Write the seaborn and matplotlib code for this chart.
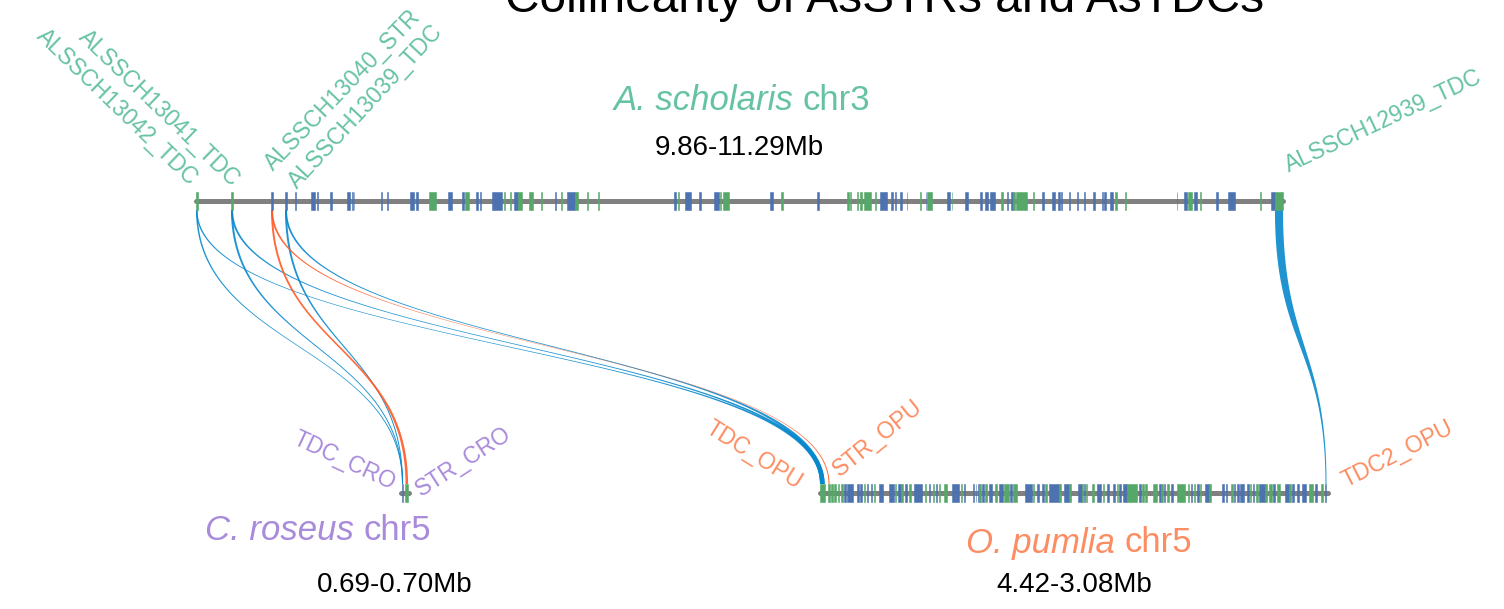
import numpy as np
import matplotlib
matplotlib.use("Agg")
import matplotlib.pyplot as plt
import seaborn as sns
from matplotlib.patches import Rectangle, Polygon

sns.set_theme(style="white")
plt.rcParams["font.family"] = ["Liberation Sans", "DejaVu Sans"]

# ---------------------------------------------------------------- data
title = "Collinearity of AsSTRs and AsTDCs"

chrom_ids = ["as", "cro", "opu"]
species_italic = ["A. scholaris", "C. roseus", "O. pumlia"]
species_chr = ["chr3", "chr5", "chr5"]
region_start = [9.86, 0.69, 4.42]   # Mb
region_end = [11.29, 0.70, 3.08]    # Mb

# genes: (start Mb, end Mb, strand)
as_genes = [
    (9.8600, 9.8620, '+'), (9.9060, 9.9087, '+'), (9.9587, 9.9613, '-'), (9.9771, 9.9797, '-'),
    (9.9896, 9.9909, '-'), (10.0113, 10.0165, '-'), (10.0198, 10.0211, '-'), (10.0363, 10.0389, '-'),
    (10.0586, 10.0626, '-'), (10.0646, 10.0659, '-'), (10.0672, 10.0685, '-'), (10.1040, 10.1053, '-'),
    (10.1119, 10.1132, '-'), (10.1415, 10.1468, '-'), (10.1494, 10.1520, '-'), (10.1665, 10.1757, '+'),
    (10.1915, 10.1968, '-'), (10.2099, 10.2126, '-'), (10.2139, 10.2191, '+'), (10.2283, 10.2310, '-'),
    (10.2330, 10.2343, '-'), (10.2494, 10.2625, '-'), (10.2658, 10.2671, '+'), (10.2737, 10.2750, '+'),
    (10.2783, 10.2836, '-'), (10.2836, 10.2889, '+'), (10.2981, 10.3033, '+'), (10.3145, 10.3158, '+'),
    (10.3329, 10.3342, '-'), (10.3408, 10.3421, '+'), (10.3480, 10.3586, '-'), (10.3586, 10.3625, '+'),
    (10.3750, 10.3763, '+'), (10.3895, 10.3908, '+'), (10.4888, 10.4915, '-'), (10.4947, 10.4960, '+'),
    (10.5033, 10.5112, '-'), (10.5217, 10.5243, '-'), (10.5414, 10.5480, '-'), (10.5500, 10.5513, '+'),
    (10.5533, 10.5612, '+'), (10.6151, 10.6191, '-'), (10.6296, 10.6322, '+'), (10.6769, 10.6796, '-'),
    (10.7164, 10.7190, '+'), (10.7210, 10.7223, '+'), (10.7302, 10.7315, '+'), (10.7335, 10.7361, '+'),
    (10.7388, 10.7480, '+'), (10.7539, 10.7552, '+'), (10.7598, 10.7664, '-'), (10.7670, 10.7684, '-'),
    (10.7743, 10.7769, '-'), (10.7802, 10.7815, '-'), (10.7861, 10.7887, '-'), (10.7947, 10.7960, '-'),
    (10.8131, 10.8144, '+'), (10.8197, 10.8210, '-'), (10.8216, 10.8282, '+'), (10.8479, 10.8519, '-'),
    (10.8539, 10.8552, '+'), (10.8716, 10.8756, '-'), (10.8914, 10.8940, '-'), (10.8979, 10.9019, '-'),
    (10.9045, 10.9111, '-'), (10.9196, 10.9210, '+'), (10.9275, 10.9288, '-'), (10.9321, 10.9348, '-'),
    (10.9348, 10.9374, '+'), (10.9387, 10.9532, '+'), (10.9617, 10.9630, '+'), (10.9729, 10.9756, '-'),
    (10.9861, 10.9900, '-'), (10.9940, 10.9966, '-'), (10.9986, 10.9999, '-'), (11.0091, 11.0104, '-'),
    (11.0196, 11.0209, '-'), (11.0288, 11.0301, '-'), (11.0400, 11.0426, '-'), (11.0525, 11.0538, '-'),
    (11.0551, 11.0565, '-'), (11.0624, 11.0663, '-'), (11.0689, 11.0716, '+'), (11.0828, 11.0841, '+'),
    (11.1499, 11.1512, '-'), (11.1597, 11.1637, '-'), (11.1650, 11.1702, '+'), (11.1729, 11.1768, '-'),
    (11.1814, 11.1827, '+'), (11.2018, 11.2044, '-'), (11.2176, 11.2268, '-'), (11.2603, 11.2617, '+'),
    (11.2742, 11.2794, '-'), (11.2794, 11.2900, '+'),
]

cro_genes = [(0.69125, 0.6925, '-'), (0.6956, 0.6988, '+')]

opu_genes = [
    (4.4200, 4.4081, '+'), (4.3976, 4.3949, '+'), (4.3910, 4.3857, '+'), (4.3818, 4.3791, '+'),
    (4.3738, 4.3712, '+'), (4.3646, 4.3593, '+'), (4.3554, 4.3527, '-'), (4.3488, 4.3330, '-'),
    (4.3211, 4.3184, '-'), (4.3132, 4.3105, '-'), (4.3039, 4.3013, '+'), (4.2960, 4.2934, '-'),
    (4.2855, 4.2828, '-'), (4.2776, 4.2749, '+'), (4.2644, 4.2538, '-'), (4.2380, 4.2248, '-'),
    (4.2222, 4.2195, '+'), (4.2143, 4.2063, '-'), (4.2063, 4.2011, '+'), (4.1958, 4.1905, '-'),
    (4.1852, 4.1800, '+'), (4.1720, 4.1509, '-'), (4.1430, 4.1404, '+'), (4.1325, 4.1298, '-'),
    (4.1219, 4.1193, '+'), (4.1127, 4.1101, '-'), (4.1061, 4.1035, '+'), (4.0929, 4.0850, '+'),
    (4.0718, 4.0639, '-'), (4.0639, 4.0534, '-'), (4.0481, 4.0454, '+'), (4.0402, 4.0375, '-'),
    (4.0151, 4.0125, '-'), (4.0098, 4.0072, '-'), (4.0045, 4.0019, '-'), (3.9993, 3.9966, '+'),
    (3.9914, 3.9887, '-'), (3.9848, 3.9795, '+'), (3.9742, 3.9663, '-'), (3.9584, 3.9531, '+'),
    (3.9478, 3.9373, '-'), (3.9346, 3.9215, '+'), (3.9188, 3.9135, '-'), (3.9109, 3.9004, '+'),
    (3.8792, 3.8608, '-'), (3.8581, 3.8555, '+'), (3.8476, 3.8423, '-'), (3.8344, 3.8291, '-'),
    (3.8265, 3.8212, '+'), (3.8159, 3.7896, '-'), (3.7896, 3.7843, '+'), (3.7764, 3.7632, '-'),
    (3.7619, 3.7592, '+'), (3.7394, 3.7289, '-'), (3.7289, 3.7263, '+'), (3.7236, 3.7210, '-'),
    (3.7183, 3.7157, '+'), (3.7025, 3.6972, '+'), (3.6893, 3.6788, '-'), (3.6735, 3.6709, '+'),
    (3.6630, 3.6577, '-'), (3.6471, 3.6419, '-'), (3.6366, 3.6339, '+'), (3.6313, 3.6260, '-'),
    (3.6207, 3.6102, '-'), (3.6102, 3.5838, '+'), (3.5785, 3.5733, '-'), (3.5706, 3.5654, '+'),
    (3.5627, 3.5574, '+'), (3.5416, 3.5311, '+'), (3.5258, 3.5205, '-'), (3.5205, 3.5152, '+'),
    (3.5126, 3.5100, '-'), (3.5047, 3.4994, '+'), (3.4941, 3.4889, '-'), (3.4783, 3.4572, '+'),
    (3.4493, 3.4467, '+'), (3.4414, 3.4387, '-'), (3.4335, 3.4308, '+'), (3.4255, 3.4203, '-'),
    (3.4176, 3.4150, '+'), (3.4044, 3.3939, '-'), (3.3939, 3.3886, '+'), (3.3596, 3.3543, '-'),
    (3.3491, 3.3464, '-'), (3.3359, 3.3306, '+'), (3.3280, 3.3253, '-'), (3.3200, 3.3148, '-'),
    (3.3134, 3.3108, '-'), (3.3082, 3.3055, '-'), (3.3029, 3.3003, '-'), (3.2937, 3.2884, '-'),
    (3.2857, 3.2831, '+'), (3.2778, 3.2752, '-'), (3.2699, 3.2646, '+'), (3.2620, 3.2462, '-'),
    (3.2462, 3.2409, '+'), (3.2356, 3.2277, '+'), (3.2251, 3.2198, '-'), (3.2145, 3.2066, '+'),
    (3.1934, 3.1829, '-'), (3.1829, 3.1776, '+'), (3.1750, 3.1697, '-'), (3.1618, 3.1565, '-'),
    (3.1486, 3.1380, '-'), (3.1301, 3.1196, '+'), (3.1143, 3.1090, '-'), (3.0985, 3.0932, '+'),
    (3.0866, 3.0840, '-'),
]

# labelled genes: name -> (chromosome, start, end)
named_genes = {
    "ALSSCH13042_TDC": ("as", 9.8600, 9.8620),
    "ALSSCH13041_TDC": ("as", 9.9060, 9.9087),
    "ALSSCH13040_STR": ("as", 9.9587, 9.9613),
    "ALSSCH13039_TDC": ("as", 9.9771, 9.9797),
    "ALSSCH12939_TDC": ("as", 11.2794, 11.2900),
    "TDC_CRO": ("cro", 0.69125, 0.6925),
    "STR_CRO": ("cro", 0.6956, 0.6988),
    "TDC_OPU": ("opu", 4.4200, 4.4081),
    "STR_OPU": ("opu", 4.3976, 4.3949),
    "TDC2_OPU": ("opu", 3.0866, 3.0840),
}

link_src = ["ALSSCH13042_TDC", "ALSSCH13041_TDC", "ALSSCH13039_TDC",
            "ALSSCH13042_TDC", "ALSSCH13041_TDC", "ALSSCH13039_TDC",
            "ALSSCH12939_TDC", "ALSSCH13040_STR", "ALSSCH13040_STR"]
link_dst = ["TDC_CRO", "TDC_CRO", "TDC_CRO",
            "TDC_OPU", "TDC_OPU", "TDC_OPU",
            "TDC2_OPU", "STR_CRO", "STR_OPU"]
link_type = ["TDC", "TDC", "TDC", "TDC", "TDC", "TDC", "TDC", "STR", "STR"]

# ---------------------------------------------------------------- style / layout
deep = sns.color_palette("deep")
set2 = sns.color_palette("Set2")
strand_color = {'-': deep[0], '+': deep[2]}
species_color = {"as": set2[0], "cro": "#a98bdb", "opu": set2[1]}
link_color = {"TDC": "#0788cc", "STR": "#ff5a26"}

layout = {  # pixel layout of each chromosome track
    "as": dict(x0=196, x1=1283, y=201),
    "cro": dict(x0=401, x1=409, y=493),
    "opu": dict(x0=820, x1=1328, y=493),
}
GENE_H = 18

W, H = 1504, 609
fig = plt.figure(figsize=(W / 100, H / 100), dpi=100)
ax = fig.add_axes([0, 0, 1, 1])
ax.set_xlim(0, W)
ax.set_ylim(H, 0)
ax.axis("off")

region = {c: (s, e) for c, s, e in zip(chrom_ids, region_start, region_end)}


def to_x(ch, pos):
    s, e = region[ch]
    L = layout[ch]
    frac = (pos - s) / (e - s)
    return L["x0"] + frac * (L["x1"] - L["x0"])


# backbones
for ch in chrom_ids:
    L = layout[ch]
    ax.plot([L["x0"], L["x1"]], [L["y"], L["y"]], color="#808080", lw=3.6,
            solid_capstyle="round", zorder=2)

# genes
for ch, genes in zip(chrom_ids, [as_genes, cro_genes, opu_genes]):
    y = layout[ch]["y"]
    for s, e, st in genes:
        xa, xb = sorted((to_x(ch, s), to_x(ch, e)))
        ax.add_patch(Rectangle((xa, y - GENE_H / 2), xb - xa, GENE_H,
                               facecolor=strand_color[st],
                               edgecolor=strand_color[st], lw=0.4,
                               zorder=3))

# links
t = np.linspace(0, 1, 300)


def bez(x0, y0, x1, y1):
    ym = (y0 + y1) / 2
    b0, b1, b2, b3 = (1 - t) ** 3, 3 * (1 - t) ** 2 * t, 3 * (1 - t) * t ** 2, t ** 3
    return b0 * x0 + b1 * x0 + b2 * x1 + b3 * x1, b0 * y0 + b1 * ym + b2 * ym + b3 * y1


for src, dst, kind in zip(link_src, link_dst, link_type):
    c1, s1, e1 = named_genes[src]
    c2, s2, e2 = named_genes[dst]
    a0, a1 = sorted((to_x(c1, s1), to_x(c1, e1)))
    b0, b1 = sorted((to_x(c2, s2), to_x(c2, e2)))
    ytop = layout[c1]["y"] + GENE_H / 2
    ybot = layout[c2]["y"] - GENE_H / 2
    lx, ly = bez(a0, ytop, b0, ybot)
    rx, ry = bez(a1, ytop, b1, ybot)
    pts = np.column_stack([np.concatenate([lx, rx[::-1]]),
                           np.concatenate([ly, ry[::-1]])])
    ax.add_patch(Polygon(pts, closed=True, facecolor=link_color[kind],
                         edgecolor="none", alpha=0.9, zorder=1))

# gene labels (anchor x, anchor y, rotation, ha)
gene_label_pos = {
    "ALSSCH13042_TDC": (190, 186, -44, "right"),
    "ALSSCH13041_TDC": (232, 187, -44, "right"),
    "ALSSCH13040_STR": (273, 172, 46, "left"),
    "ALSSCH13039_TDC": (297, 190, 47, "left"),
    "ALSSCH12939_TDC": (1289, 172, 25, "left"),
    "TDC_CRO": (392, 490, -25, "right"),
    "STR_CRO": (421, 497, 33, "left"),
    "TDC_OPU": (797, 490, -32, "right"),
    "STR_OPU": (840, 477, 39, "left"),
    "TDC2_OPU": (1346, 488, 27, "left"),
}
for name, (x, y, rot, ha) in gene_label_pos.items():
    ch = named_genes[name][0]
    ax.text(x, y, name, rotation=rot, rotation_mode="anchor", ha=ha,
            va="baseline", fontsize=16.5, color=species_color[ch])

# species labels (italic genus + chromosome) and region labels
species_center = {"as": (742, 101), "cro": (318, 530), "opu": (1079, 543)}
fig.canvas.draw()
renderer = fig.canvas.get_renderer()
for ch, it, chrn in zip(chrom_ids, species_italic, species_chr):
    cx, cy = species_center[ch]
    t1 = ax.text(0, cy, it + " ", style="italic", ha="left", va="center",
                 fontsize=25, color=species_color[ch])
    t2 = ax.text(0, cy, chrn, ha="left", va="center", fontsize=25,
                 color=species_color[ch])
    w1 = t1.get_window_extent(renderer).width
    w2 = t2.get_window_extent(renderer).width
    left = cx - (w1 + w2) / 2
    t1.set_x(left)
    t2.set_x(left + w1)

region_y = {"as": 148, "cro": 585, "opu": 585}
region_dx = {"as": 0, "cro": -10, "opu": 0}
for ch, s, e in zip(chrom_ids, region_start, region_end):
    L = layout[ch]
    ax.text((L["x0"] + L["x1"]) / 2 + region_dx[ch], region_y[ch],
            f"{s:.2f}-{e:.2f}Mb", ha="center", va="center", fontsize=20,
            color="black")

ax.text(885, 12, title, ha="center", va="baseline", fontsize=34.5,
        color="black")

fig.savefig("out.png", dpi=100)
